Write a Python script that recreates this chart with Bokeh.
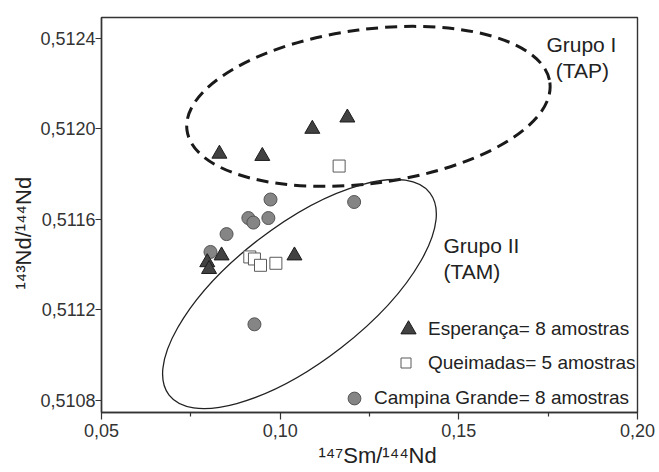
import math
from bokeh.plotting import figure
from bokeh.models import Range1d, FixedTicker, CustomJSTickFormatter, Legend, LegendItem, Title
from bokeh.embed import file_html
from bokeh.resources import INLINE
from bokeh.core.properties import value

# ---- data ----
esp_x = [0.1188, 0.1090, 0.0830, 0.0950, 0.0836, 0.1040, 0.0796, 0.0801]
esp_y = [0.51205, 0.51200, 0.51189, 0.51188, 0.51144, 0.51144, 0.51141, 0.51138]

que_x = [0.1165, 0.0915, 0.0928, 0.0945, 0.0988]
que_y = [0.511836, 0.511434, 0.511425, 0.511397, 0.511406]

cg_x = [0.0973, 0.1207, 0.0911, 0.0925, 0.0967, 0.0850, 0.0805, 0.0928]
cg_y = [0.511688, 0.511677, 0.511606, 0.511586, 0.511606, 0.511535, 0.511456, 0.511136]

x_ticks = [0.05, 0.10, 0.15, 0.20]
x_minor = [0.075, 0.125, 0.175]
y_ticks = [0.5108, 0.5112, 0.5116, 0.5120, 0.5124]

grp_text = ["Grupo I", "(TAP)", "Grupo II", "(TAM)"]
grp_x = [0.1745, 0.1771, 0.1457, 0.1457]
grp_y = [0.512375, 0.51226, 0.511485, 0.51137]

# group ellipses: centre (data), axes (screen px), rotation (deg)
ell_x = [0.1247, 0.1054]
ell_y = [0.5121, 0.51127]
ell_w = [366, 330]
ell_h = [154, 136]
ell_deg = [7.5, 37.8]

leg_labels = ["Esperança= 8 amostras", "Queimadas= 5 amostras", "Campina Grande= 8 amostras"]
x_title = "¹⁴⁷Sm/¹⁴⁴Nd"
y_title = "¹⁴³Nd/¹⁴⁴Nd"

FONT = "Liberation Sans"

p = figure(width=659, height=472,
           x_range=Range1d(0.05, 0.20), y_range=Range1d(0.510746, 0.512493),
           output_backend="svg", toolbar_location=None,
           min_border_left=101, min_border_right=22, min_border_top=17, min_border_bottom=60)
p.background_fill_color = "white"
p.border_fill_color = "white"
p.outline_line_color = "#333333"
p.outline_line_width = 1.4
p.xgrid.visible = False
p.ygrid.visible = False

# axes
p.xaxis.ticker = FixedTicker(ticks=x_ticks, minor_ticks=x_minor)
p.yaxis.ticker = FixedTicker(ticks=y_ticks, minor_ticks=[])
p.xaxis.formatter = CustomJSTickFormatter(code="return tick.toFixed(2).replace('.', ',');")
p.yaxis.formatter = CustomJSTickFormatter(code="return tick.toFixed(4).replace('.', ',');")
for ax in (p.xaxis, p.yaxis):
    ax.axis_line_color = "#333333"
    ax.axis_line_width = 1.4
    ax.major_tick_line_color = "#333333"
    ax.major_tick_line_width = 1.2
    ax.minor_tick_line_color = "#333333"
    ax.minor_tick_line_width = 1.2
    ax.major_tick_in = 0
    ax.minor_tick_in = 0
    ax.major_label_text_font = FONT
    ax.major_label_text_font_size = "18px"
    ax.major_label_text_color = "#333333"
p.xaxis.major_tick_out = 7
p.xaxis.minor_tick_out = 4
p.xaxis.major_label_standoff = 4
p.yaxis.major_tick_out = 6
p.yaxis.minor_tick_out = 0
p.yaxis.major_label_standoff = 0

# axis titles (placed in the side panels, outside the axes)
p.add_layout(Title(text=x_title, align="left", offset=217, vertical_align="top", standoff=6,
                   text_font=FONT, text_font_size="22px", text_font_style="normal",
                   text_color="#222222"), "below")
p.add_layout(Title(text=y_title, align="left", offset=123, vertical_align="bottom", standoff=4,
                   text_font=FONT, text_font_size="22px", text_font_style="normal",
                   text_color="#222222"), "left")

# group ellipses
p.ellipse(x=[ell_x[0]], y=[ell_y[0]], width=[ell_w[0]], height=[ell_h[0]],
          angle=[math.radians(ell_deg[0])], width_units="screen", height_units="screen",
          fill_color=None, line_color="#1a1a1a", line_width=3, line_dash="12 7")
p.ellipse(x=[ell_x[1]], y=[ell_y[1]], width=[ell_w[1]], height=[ell_h[1]],
          angle=[math.radians(ell_deg[1])], width_units="screen", height_units="screen",
          fill_color=None, line_color="#222222", line_width=1.3)

# group labels
p.text(x=grp_x, y=grp_y, text=grp_text, text_font=value(FONT), text_font_size="21px",
       text_baseline="alphabetic", text_align="left", text_color="#222222")

# samples
r_cg = p.scatter(cg_x, cg_y, marker="circle", size=13, fill_color="#858585",
                 line_color="#555555", line_width=1)
r_que = p.scatter(que_x, que_y, marker="square", size=12, fill_color="white",
                  line_color="#5a5a5a", line_width=1)
r_esp = p.scatter(esp_x, esp_y, marker="triangle", size=15, fill_color="#424242",
                  line_color="#1c1c1c", line_width=1)

def make_legend(label, rend, loc, glyph, standoff):
    return Legend(items=[LegendItem(label=label, renderers=[rend])], location=loc,
                  glyph_width=glyph, glyph_height=glyph, label_standoff=standoff,
                  padding=0, margin=0, spacing=0, border_line_color=None,
                  background_fill_alpha=0, label_text_font=FONT,
                  label_text_font_size="19px", label_text_color="#222222")

p.add_layout(make_legend(leg_labels[0], r_esp, (288, 64), 38, 1))
p.add_layout(make_legend(leg_labels[1], r_que, (292, 37), 25, 10))
p.add_layout(make_legend(leg_labels[2], r_cg, (237, -2), 32, 4))

open("out.html", "w").write(file_html(p, INLINE))
